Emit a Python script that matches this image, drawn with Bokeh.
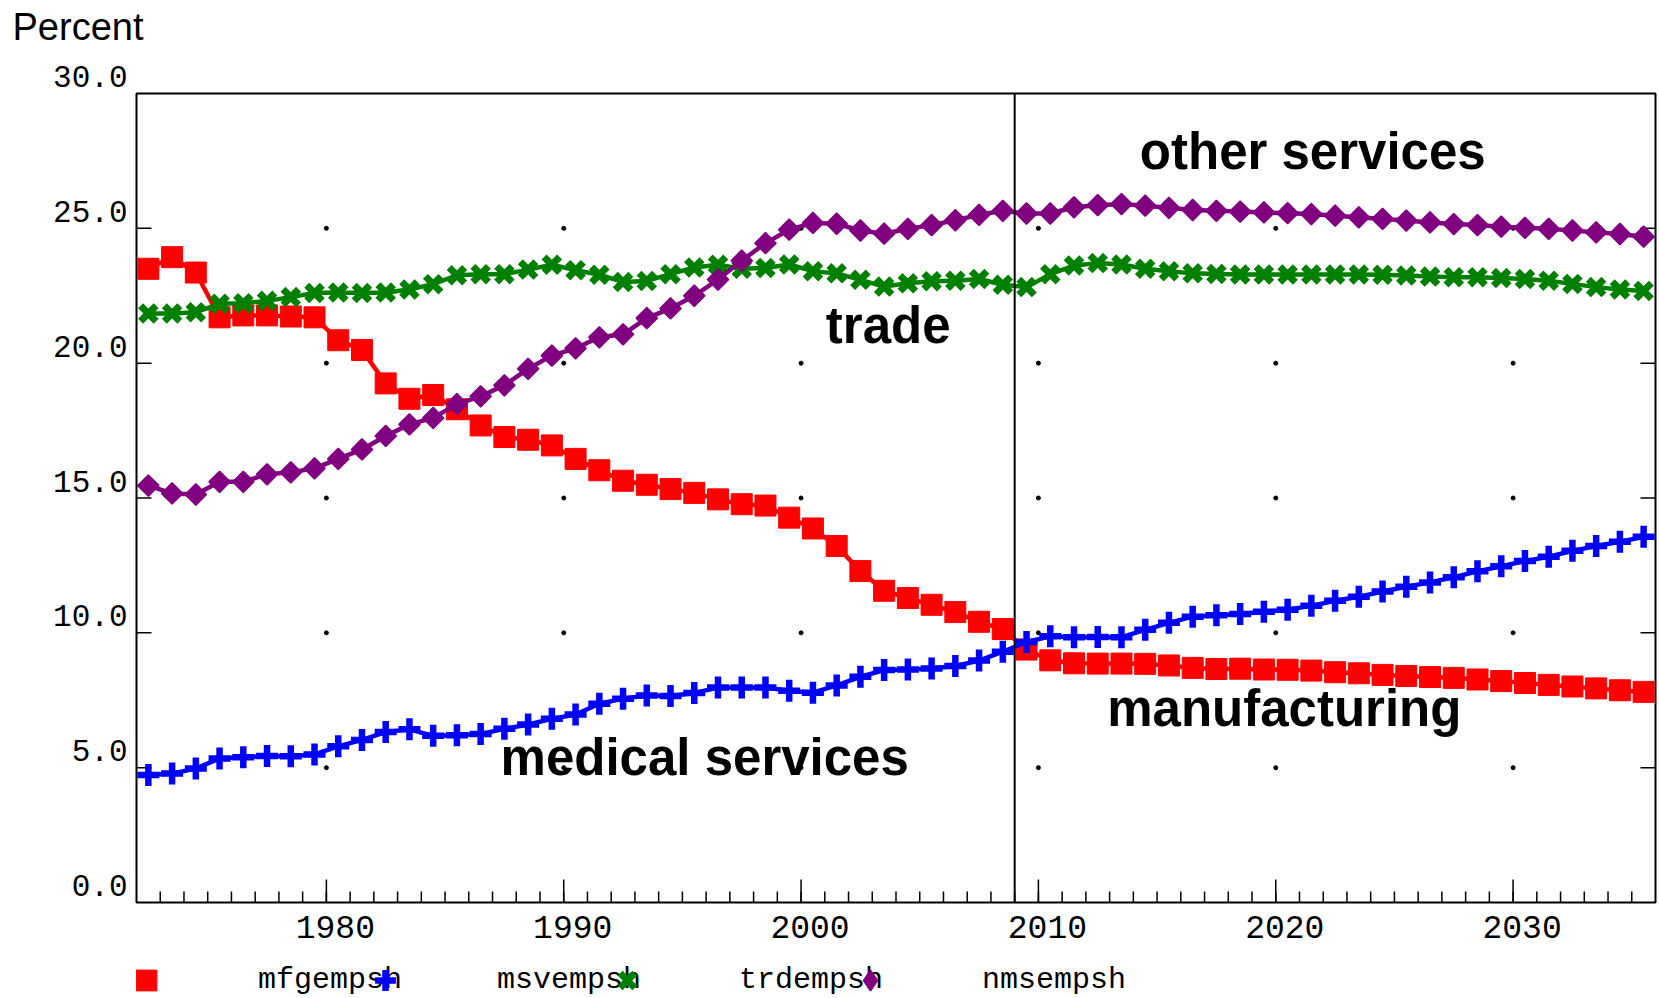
import math
from bokeh.plotting import figure
from bokeh.layouts import column
from bokeh.models import (Range1d, LinearAxis, FixedTicker, Span, Label, Legend,
                          LegendItem)
from bokeh.core.properties import value
from bokeh.embed import file_html
from bokeh.resources import INLINE

# ---------------- data ----------------
years = list(range(1972, 2036))

mfgempsh = [23.50, 23.93, 23.36, 21.70, 21.77, 21.77, 21.73, 21.70, 20.85, 20.49,
            19.25, 18.68, 18.82, 18.29, 17.69, 17.26, 17.16, 16.95, 16.45, 16.03,
            15.64, 15.49, 15.33, 15.19, 14.95, 14.77, 14.72, 14.27, 13.87, 13.22,
            12.29, 11.56, 11.29, 11.04, 10.77, 10.41, 10.14, 9.38, 8.98, 8.87,
            8.86, 8.86, 8.85, 8.79, 8.70, 8.66, 8.67, 8.64, 8.63, 8.60,
            8.54, 8.50, 8.44, 8.40, 8.36, 8.33, 8.27, 8.21, 8.14, 8.07,
            8.01, 7.94, 7.87, 7.81]

msvempsh = [4.73, 4.78, 4.97, 5.34, 5.39, 5.43, 5.42, 5.49, 5.79, 6.03,
            6.32, 6.42, 6.18, 6.20, 6.25, 6.44, 6.60, 6.81, 6.97, 7.37,
            7.56, 7.68, 7.66, 7.77, 7.97, 7.97, 7.97, 7.85, 7.78, 8.05,
            8.37, 8.62, 8.64, 8.68, 8.77, 8.97, 9.30, 9.66, 9.87, 9.84,
            9.85, 9.84, 10.11, 10.37, 10.60, 10.65, 10.70, 10.78, 10.86, 11.00,
            11.19, 11.34, 11.53, 11.71, 11.87, 12.06, 12.28, 12.47, 12.66, 12.82,
            13.04, 13.22, 13.38, 13.56]

trdempsh = [21.84, 21.84, 21.89, 22.20, 22.22, 22.31, 22.45, 22.60, 22.62, 22.60,
            22.62, 22.73, 22.93, 23.26, 23.30, 23.30, 23.47, 23.65, 23.45, 23.28,
            23.01, 23.05, 23.30, 23.55, 23.65, 23.50, 23.53, 23.66, 23.41, 23.33,
            23.09, 22.84, 22.96, 23.04, 23.06, 23.12, 22.91, 22.82, 23.30, 23.62,
            23.71, 23.66, 23.50, 23.41, 23.33, 23.31, 23.29, 23.29, 23.29, 23.29,
            23.29, 23.29, 23.28, 23.25, 23.21, 23.19, 23.19, 23.16, 23.12, 23.06,
            22.94, 22.82, 22.73, 22.68]

nmsempsh = [15.46, 15.17, 15.13, 15.60, 15.60, 15.88, 15.95, 16.10, 16.45, 16.80,
            17.30, 17.73, 17.97, 18.48, 18.77, 19.18, 19.79, 20.28, 20.55, 20.96,
            21.07, 21.67, 22.03, 22.50, 23.10, 23.80, 24.45, 24.95, 25.20, 25.17,
            24.92, 24.80, 24.98, 25.12, 25.30, 25.50, 25.65, 25.55, 25.55, 25.78,
            25.86, 25.90, 25.84, 25.76, 25.68, 25.65, 25.62, 25.59, 25.56, 25.53,
            25.47, 25.41, 25.35, 25.29, 25.22, 25.16, 25.12, 25.06, 25.02, 24.98,
            24.92, 24.85, 24.79, 24.69]

series_names = ["mfgempsh", "msvempsh", "trdempsh", "nmsempsh"]
series_values = [mfgempsh, msvempsh, trdempsh, nmsempsh]

x_ticks = [1980, 1990, 2000, 2010, 2020, 2030]
x_tick_labels = ["1980", "1990", "2000", "2010", "2020", "2030"]
y_ticks = [0, 5, 10, 15, 20, 25, 30]
y_tick_labels = ["0.0", "5.0", "10.0", "15.0", "20.0", "25.0", "30.0"]
history_end = 2009
y_title = "Percent"

note_texts = ["other services", "trade", "medical services", "manufacturing"]

# ---------------- layout / style ----------------
X0, X1 = 1972, 2036
Y0, Y1 = 0, 30
W, H = 1659, 998
H_TOP = 953                      # main chart; legend strip below it
BL, BR, BT, BB = 136, 4, 93, 51
FRAME_W = W - BL - BR
FRAME_H = H_TOP - BT - BB
# tick labels sit a little right of / above their tick marks
dx = 9 * (X1 - X0) / FRAME_W
dy = 17 * (Y1 - Y0) / FRAME_H

series_colors = ["#ff0000", "#0000ff", "#008000", "#800080"]
series_markers = ["square", "cross", "x", "square"]
marker_angles = [0, 0, 0, math.pi / 4]          # last: square turned into a rhombus
marker_sizes = [21, 22, 22, 15]
marker_lw = [1, 6.5, 7, 1.5]
key_markers = ["square", "cross", "x", "diamond"]

note_x = [2021.56, 2003.67, 1995.94, 2020.36]
note_y = [27.86, 21.38, 5.36, 7.18]

legend_marker_px = [146, 385, 627, 870]   # legend key centres, pixels from left
legend_row_px = 980                       # legend row centre, pixels from top

p = figure(width=W, height=H_TOP, x_range=Range1d(X0, X1), y_range=Range1d(Y0, Y1),
           x_axis_location=None, y_axis_location=None, title=None,
           output_backend="svg", toolbar_location=None,
           min_border_left=BL, min_border_right=BR, min_border_top=BT,
           min_border_bottom=BB)
p.grid.visible = False
p.outline_line_color = "black"
p.outline_line_width = 2
p.background_fill_color = "white"
p.border_fill_color = "white"
p.extra_x_ranges = {"xlab": Range1d(X0 - dx, X1 - dx)}
p.extra_y_ranges = {"ylab": Range1d(Y0 - dy, Y1 - dy)}


def label_axis(ax, ticks, labels, size, standoff):
    ax.ticker = FixedTicker(ticks=ticks, minor_ticks=[])
    ax.major_label_overrides = dict(zip(ticks, labels))
    ax.major_tick_in = 0
    ax.major_tick_out = 0
    ax.minor_tick_in = 0
    ax.minor_tick_out = 0
    ax.axis_line_color = None
    ax.major_tick_line_color = None
    ax.minor_tick_line_color = None
    ax.major_label_standoff = standoff
    ax.major_label_text_font = "Liberation Mono"
    ax.major_label_text_font_size = size
    ax.major_label_text_color = "black"
    return ax


xa = label_axis(LinearAxis(x_range_name="xlab"), x_ticks, x_tick_labels, "33px", 13)
p.add_layout(xa, "below")
ya = label_axis(LinearAxis(y_range_name="ylab"), y_ticks[:-1], y_tick_labels[:-1],
                "31px", 9)
p.add_layout(ya, "left")

# top tick label (above the frame) and the unit title
p.add_layout(Label(x=X0, y=Y1, x_offset=-9, y_offset=17, text=y_tick_labels[-1],
                   text_align="right", text_baseline="middle",
                   text_font="Liberation Mono", text_font_size="31px",
                   text_color="black"), "above")
p.add_layout(Label(x=X0, y=Y1, x_offset=-124, y_offset=67, text=y_title,
                   text_align="left", text_baseline="middle",
                   text_font="Liberation Sans", text_font_size="38px",
                   text_color="black"), "above")

# tick marks, pointing into the frame (half of each dash is clipped away)
inner_y = y_ticks[1:-1]
for xe in (X0, X1):
    p.scatter([xe] * len(inner_y), inner_y, marker="dash", size=30,
              line_color="black", line_width=1.5)
p.scatter(years[1:], [Y0] * len(years[1:]), marker="dash", angle=math.pi / 2,
          size=22, line_color="black", line_width=1.5)
p.scatter(x_ticks, [Y0] * len(x_ticks), marker="dash", angle=math.pi / 2,
          size=46, line_color="black", line_width=1.5)

# dotted grid: dots at major tick intersections
gx = [x for x in x_ticks for y in inner_y]
gy = [y for x in x_ticks for y in inner_y]
p.scatter(gx, gy, marker="circle", size=4, color="black")

p.add_layout(Span(location=history_end, dimension="height",
                  line_color="black", line_width=2))

x_mid = [yr + 0.5 for yr in years]
for vals, col, mk, ang, ms, mlw in zip(series_values, series_colors, series_markers,
                                        marker_angles, marker_sizes, marker_lw):
    p.line(x_mid, vals, line_color=col, line_width=4.5)
    p.scatter(x_mid, vals, marker=mk, angle=ang, size=ms, fill_color=col,
              line_color=col, line_width=mlw)

p.text(x=note_x, y=note_y, text=note_texts, text_font=value("Liberation Sans"),
       text_font_style="bold", text_font_size="51px", text_align="center",
       text_baseline="alphabetic", text_color="black")

# ---------------- legend strip ----------------
# (its frame is aligned with the chart's frame by the column layout)
H_LEG = H - H_TOP
q = figure(width=W, height=H_LEG, x_range=Range1d(0, 1), y_range=Range1d(0, 1),
           x_axis_location=None, y_axis_location=None, title=None,
           output_backend="svg", toolbar_location=None, min_border=0)
q.grid.visible = False
q.outline_line_color = None
q.background_fill_color = "white"
q.border_fill_color = "white"

GLYPH = 52
for name, vals, col, mk, ms, mlw, cx in zip(series_names, series_values,
                                            series_colors, key_markers,
                                            marker_sizes, marker_lw,
                                            legend_marker_px):
    # legend key: the same series, outside this strip's visible ranges
    key = q.scatter(x_mid, vals, marker=mk, size=ms, fill_color=col,
                    line_color=col, line_width=mlw)
    leg = Legend(items=[LegendItem(label=name, renderers=[key])],
                 location=(cx - GLYPH / 2 - BL,
                           H_LEG - (legend_row_px - H_TOP) - GLYPH / 2),
                 orientation="horizontal",
                 glyph_width=GLYPH, glyph_height=GLYPH, label_standoff=86,
                 padding=0, margin=0, spacing=0,
                 border_line_alpha=0, background_fill_alpha=0,
                 label_text_font="Liberation Mono", label_text_font_size="30px",
                 label_text_color="black")
    q.add_layout(leg)

page = column(p, q, spacing=0)
open("out.html", "w").write(file_html(page, INLINE))
